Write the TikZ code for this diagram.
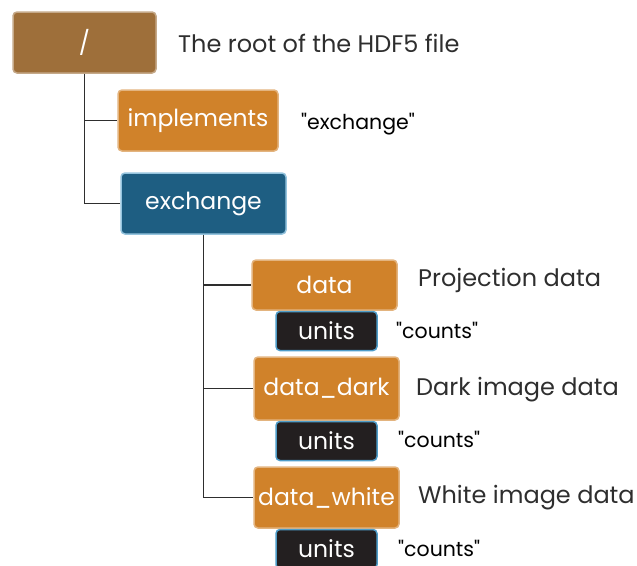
\documentclass[tikz,border=0pt]{standalone}
\usepackage{fontspec}
\setmainfont{Poppins}
\usepackage{tikz}
\usetikzlibrary{positioning}
\definecolor{rootbrown}{HTML}{9E6F3A}
\definecolor{grouporange}{HTML}{D0822A}
\definecolor{groupblue}{HTML}{1E5E82}
\definecolor{attrblack}{HTML}{231F20}
\definecolor{edgeblue}{HTML}{4E9CC8}
\definecolor{textgray}{HTML}{2E2E2E}
\newcommand{\qval}[1]{\textquotedbl#1\textquotedbl}

\begin{document}
\begin{tikzpicture}[
    x=1pt, y=-1pt,
    box/.style={draw, line width=1.5pt, rounded corners=4pt, text=white, font=\fontsize{23.5}{28}\selectfont, inner sep=0pt},
    grp/.style={box, fill=grouporange, draw=grouporange!60!white, minimum width=145pt, minimum height=61pt},
    attr/.style={box, fill=attrblack, draw=edgeblue, minimum width=101pt, minimum height=39pt},
    desc/.style={text=textgray, font=\fontsize{24}{28}\selectfont, anchor=west, inner sep=0pt},
    val/.style={text=black, font=\fontsize{20.5}{24}\selectfont, anchor=west, inner sep=0pt},
    tree/.style={line width=1.8pt, draw=textgray}
]
\useasboundingbox (0,0) rectangle (637,565);

% Root and first level
\node[box, fill=rootbrown, draw=rootbrown!60!white, minimum width=143pt, minimum height=61pt] (root) at (84.5,42.5) {/};
\node[desc] (rootdesc) at (178,43) {The root of the HDF5 file};

\node[grp, minimum width=160pt] (impl) at (198,120.5) {implements};
\node[val] (implval) at (301,124) {\qval{exchange}};

\node[box, fill=groupblue, draw=edgeblue!60!white, minimum width=165pt, minimum height=61pt] (exch) at (203.5,203.5) {exchange};

% Datasets in exchange
\node[grp, minimum height=50pt] (data) at (324.5,285) {data};
\node[attr, below=0pt of data.south, anchor=north, xshift=2pt] (units1) {units};
\node[desc] (datadesc) at (418,280) {Projection data};
\node[val] (units1val) at (396,330) {\qval{counts}};

\node[grp, minimum height=63pt] (dark) at (326.5,388.5) {data\_dark};
\node[attr, below=0pt of dark.south, anchor=north] (units2) {units};
\node[desc] (darkdesc) at (416,390) {Dark image data};
\node[val] (units2val) at (398,439) {\qval{counts}};

\node[grp] (white) at (326.5,497.5) {data\_white};
\node[attr, below=0pt of white.south, anchor=north] (units3) {units};
\node[desc] (whitedesc) at (418,498) {White image data};
\node[val] (units3val) at (398,548) {\qval{counts}};

% Tree lines
\draw[tree] (root.south) |- (impl.west);
\draw[tree] (root.south) |- (exch.west);
\draw[tree] (exch.south) |- (data.west);
\draw[tree] (exch.south) |- (dark.west);
\draw[tree] (exch.south) |- (white.west);

\end{tikzpicture}
\end{document}
